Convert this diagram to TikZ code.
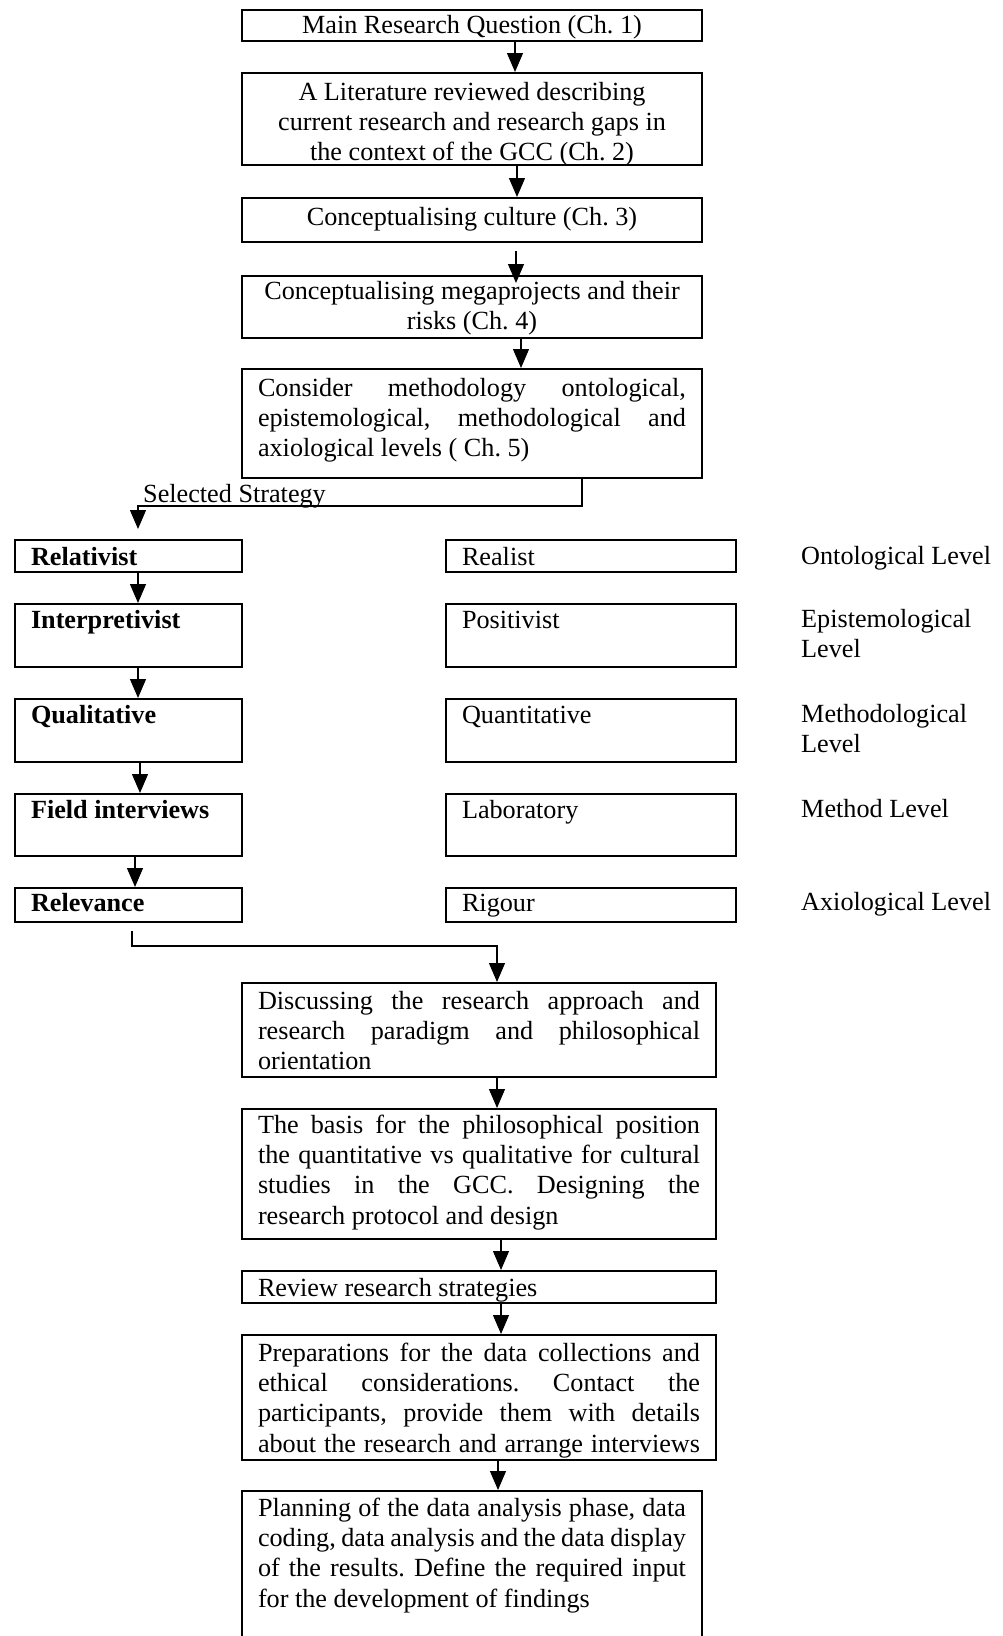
\documentclass[tikz,border=0pt]{standalone}
\usepackage{fontspec}
\setmainfont{Liberation Serif}
\usetikzlibrary{arrows.meta}
\frenchspacing
% box body: #1 total height, #2 text width, #3 first-baseline offset, #4 text
\newcommand\boxbody[4]{\parbox[t][#1][t]{#2}{\rule{0pt}{#3}#4}}
% a fully justified line
\newcommand\jl[1]{\makebox[\linewidth][s]{#1}}

\begin{document}
\begin{tikzpicture}[x=1pt,y=-1pt,
  every node/.style={font=\fontsize{26.2}{30.4}\selectfont},
  flowbox/.style={draw, line width=2pt, inner xsep=16pt, inner ysep=0pt, anchor=north west},
  lbl/.style={inner sep=0pt, anchor=base west},
  arr/.style={line width=1.2pt, -{Triangle[length=19pt,width=16pt]}},
  link/.style={line width=1.2pt}]
\useasboundingbox (0,0) rectangle (1003,1636);
\clip (0,0) rectangle (1003,1636);
\fill[white] (0,0) rectangle (1003,1636);

% ---- main column, upper part
\node[flowbox] (b1) at (241,9) {\boxbody{31pt}{428pt}{23pt}{\centering Main Research Question (Ch. 1)}};
\node[flowbox] (b2) at (241,72) {\boxbody{92pt}{428pt}{27pt}{\centering A Literature reviewed describing\\current research and research gaps in\\the context of the GCC (Ch. 2)}};
\node[flowbox] (b3) at (241,197) {\boxbody{44pt}{428pt}{27pt}{\centering Conceptualising culture (Ch. 3)}};
\node[flowbox] (b4) at (241,275) {\boxbody{62pt}{428pt}{23pt}{\centering Conceptualising megaprojects and their\\risks (Ch. 4)}};
\node[flowbox] (b5) at (241,368) {\boxbody{109pt}{428pt}{27pt}{\jl{Consider methodology ontological,}\\\jl{epistemological, methodological and}\\axiological levels ( Ch. 5)}};

% ---- selected strategy column
\node[flowbox] (r1) at (14,539) {\boxbody{32pt}{195pt}{25pt}{\textbf{Relativist}}};
\node[flowbox] (r2) at (14,603) {\boxbody{63pt}{195pt}{24pt}{\textbf{Interpretivist}}};
\node[flowbox] (r3) at (14,698) {\boxbody{63pt}{195pt}{24pt}{\textbf{Qualitative}}};
\node[flowbox] (r4) at (14,793) {\boxbody{62pt}{195pt}{24pt}{\textbf{Field interviews}}};
\node[flowbox] (r5) at (14,887) {\boxbody{34pt}{195pt}{23pt}{\textbf{Relevance}}};

% ---- alternative column
\node[flowbox] (q1) at (445,539) {\boxbody{32pt}{258pt}{25pt}{Realist}};
\node[flowbox] (q2) at (445,603) {\boxbody{63pt}{258pt}{24pt}{Positivist}};
\node[flowbox] (q3) at (445,698) {\boxbody{63pt}{258pt}{24pt}{Quantitative}};
\node[flowbox] (q4) at (445,793) {\boxbody{62pt}{258pt}{24pt}{Laboratory}};
\node[flowbox] (q5) at (445,887) {\boxbody{34pt}{258pt}{23pt}{Rigour}};

% ---- level labels
\node[lbl] (l1) at (801,564) {Ontological Level};
\node[lbl] (l2) at (801,627) {\parbox[t]{200pt}{\raggedright Epistemological\\Level}};
\node[lbl] (l3) at (801,722) {\parbox[t]{200pt}{\raggedright Methodological\\Level}};
\node[lbl] (l4) at (801,817) {Method Level};
\node[lbl] (l5) at (801,910) {Axiological Level};

% ---- main column, lower part
\node[flowbox] (b6) at (241,982) {\boxbody{94pt}{442pt}{26pt}{\jl{Discussing the research approach and}\\\jl{research paradigm and philosophical}\\orientation}};
\node[flowbox] (b7) at (241,1108) {\boxbody{130pt}{442pt}{24pt}{\jl{The basis for the philosophical position}\\\jl{the quantitative vs qualitative for cultural}\\\jl{studies in the GCC. Designing the}\\research protocol and design}};
\node[flowbox] (b8) at (241,1270) {\boxbody{32pt}{442pt}{25pt}{Review research strategies}};
\node[flowbox] (b9) at (241,1334) {\boxbody{125pt}{442pt}{26pt}{\jl{Preparations for the data collections and}\\\jl{ethical considerations. Contact the}\\\jl{participants, provide them with details}\\\jl{about the research and arrange interviews}}};
\node[flowbox] (b10) at (241,1490) {\boxbody{160pt}{428pt}{25pt}{\jl{Planning of the data analysis phase, data}\\\jl{coding, data analysis and the data display}\\\jl{of the results. Define the required input}\\for the development of findings}};

% ---- connector columns
\coordinate (x1) at (515,0);
\coordinate (x2) at (517,0);
\coordinate (x3) at (516,0);
\coordinate (x4) at (521,0);
\coordinate (xs) at (582,0);
\coordinate (sel) at (138,506);
\coordinate (xr3) at (140,0);
\coordinate (xr4) at (135,0);
\coordinate (rel) at (132,946);
\coordinate (x6) at (497,0);
\coordinate (x7) at (501,0);
\coordinate (x9) at (498,0);

\draw[arr] (b1.south -| x1) -- (b2.north -| x1);
\draw[arr] (b2.south -| x2) -- (b3.north -| x2);
\draw[arr, shorten <=8pt, shorten >=-8pt] (b3.south -| x3) -- (b4.north -| x3);
\draw[arr] (b4.south -| x4) -- (b5.north -| x4);

\draw[arr, shorten >=10pt] (b5.south -| xs) |- (sel) -- (r1.north -| sel);
\node[lbl] (selt) at (143,502) {Selected Strategy};

\draw[arr] (r1.south -| sel) -- (r2.north -| sel);
\draw[arr] (r2.south -| sel) -- (r3.north -| sel);
\draw[arr] (r3.south -| xr3) -- (r4.north -| xr3);
\draw[arr] (r4.south -| xr4) -- (r5.north -| xr4);

\draw[arr, shorten <=8pt] (r5.south -| rel) -- (rel) -| (b6.north -| x6);

\draw[arr] (b6.south -| x6) -- (b7.north -| x6);
\draw[arr] (b7.south -| x7) -- (b8.north -| x7);
\draw[arr] (b8.south -| x7) -- (b9.north -| x7);
\draw[arr] (b9.south -| x9) -- (b10.north -| x9);
\end{tikzpicture}
\end{document}
